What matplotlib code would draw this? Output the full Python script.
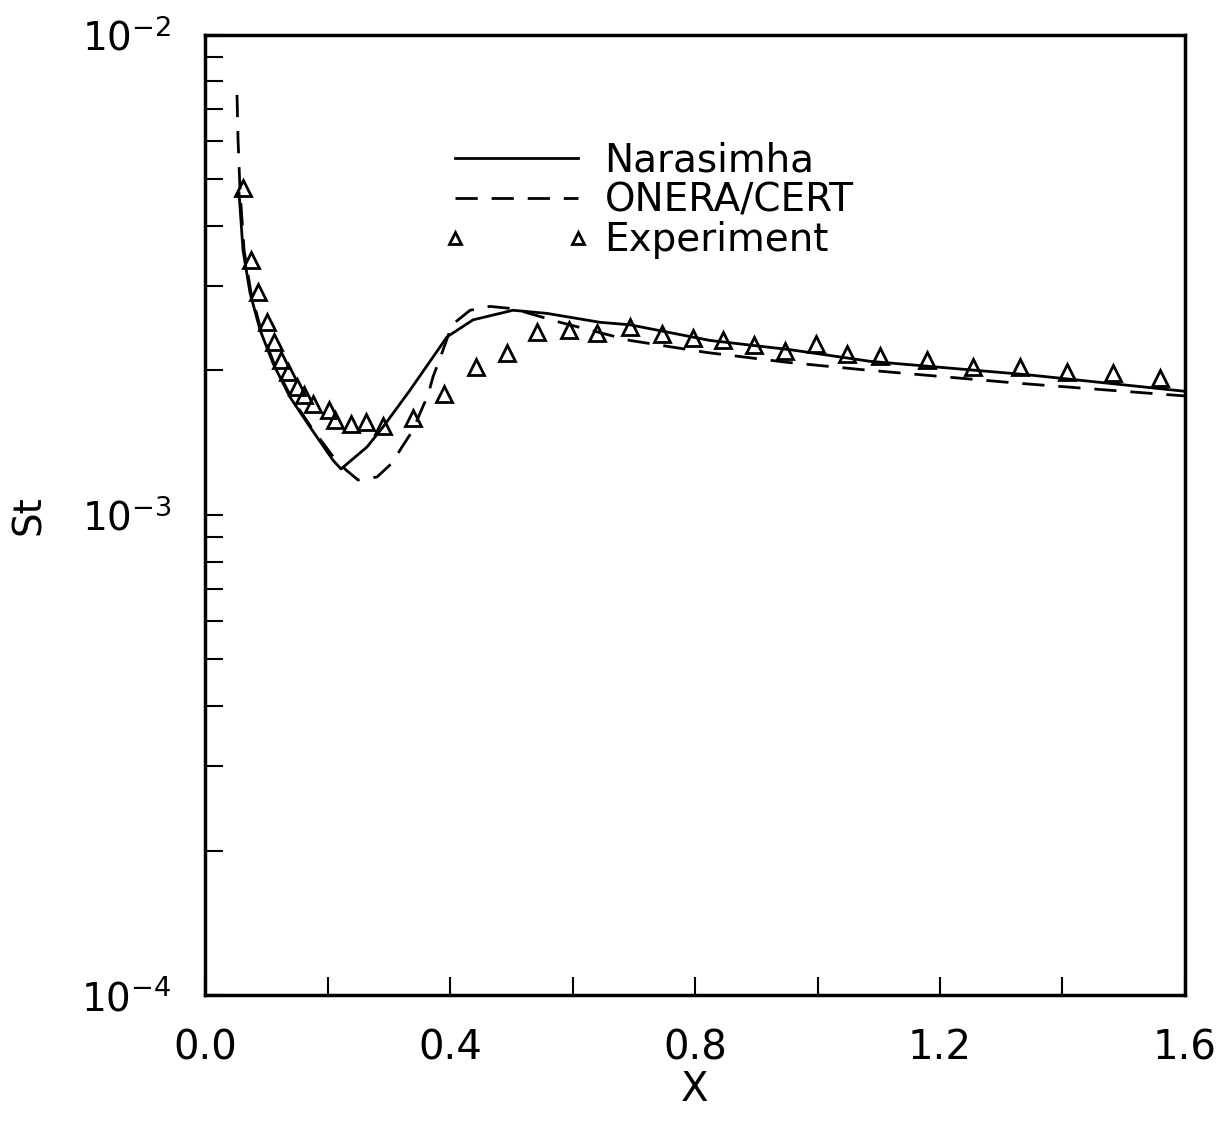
import matplotlib
matplotlib.use('Agg')
import matplotlib.pyplot as plt
import numpy as np
from matplotlib.ticker import FixedLocator, LogLocator, NullFormatter

plt.rcParams['font.family'] = ['Liberation Sans Narrow', 'DejaVu Sans']

# Narasimha (solid)
x_nar = [0.0555, 0.062, 0.0735, 0.0898, 0.111, 0.1388, 0.1714, 0.209, 0.222,
         0.2645, 0.2906, 0.3347, 0.3951, 0.4376, 0.5029, 0.5584, 0.6449,
         0.6939, 0.8245, 0.9551, 1.0857, 1.342, 1.6]
st_nar = [4.69e-3, 3.56e-3, 2.90e-3, 2.43e-3, 2.07e-3, 1.76e-3, 1.525e-3, 1.30e-3, 1.247e-3,
          1.386e-3, 1.525e-3, 1.82e-3, 2.35e-3, 2.55e-3, 2.67e-3, 2.63e-3, 2.52e-3,
          2.49e-3, 2.31e-3, 2.21e-3, 2.09e-3, 1.96e-3, 1.81e-3]

# ONERA/CERT (dashed)
x_onera = [0.0522, 0.0539, 0.0571, 0.0637, 0.0751, 0.0914, 0.1127, 0.1404, 0.1731,
           0.2106, 0.2302, 0.2498, 0.2808, 0.3053, 0.3216, 0.3396, 0.351, 0.3641,
           0.3722, 0.3837, 0.4033, 0.4327, 0.4653, 0.5029, 0.5796, 0.6939, 0.8196,
           0.9502, 1.0694, 1.3306, 1.6]
st_onera = [7.5e-3, 6.04e-3, 4.75e-3, 3.56e-3, 2.90e-3, 2.43e-3, 2.07e-3, 1.76e-3, 1.525e-3,
            1.315e-3, 1.241e-3, 1.183e-3, 1.20e-3, 1.283e-3, 1.386e-3, 1.503e-3, 1.63e-3, 1.778e-3,
            1.94e-3, 2.12e-3, 2.49e-3, 2.67e-3, 2.72e-3, 2.69e-3, 2.52e-3, 2.31e-3, 2.18e-3,
            2.08e-3, 2.01e-3, 1.88e-3, 1.77e-3]

# Experiment
x_exp = [0.0625, 0.0746, 0.087, 0.1007, 0.1127, 0.1236, 0.136, 0.1497, 0.1616, 0.1758,
         0.2029, 0.2122, 0.2379, 0.2629, 0.2901, 0.3401, 0.3902, 0.442, 0.4926, 0.5425,
         0.5938, 0.6395, 0.6939, 0.7461, 0.7967, 0.8457, 0.8963, 0.9469, 0.9976, 1.0482,
         1.102, 1.1788, 1.2539, 1.3306, 1.4073, 1.4824, 1.5592]
st_exp = [4.79e-3, 3.40e-3, 2.92e-3, 2.52e-3, 2.29e-3, 2.10e-3, 1.99e-3, 1.85e-3, 1.78e-3, 1.70e-3,
          1.655e-3, 1.58e-3, 1.55e-3, 1.565e-3, 1.53e-3, 1.59e-3, 1.79e-3, 2.03e-3, 2.18e-3, 2.40e-3,
          2.43e-3, 2.39e-3, 2.46e-3, 2.38e-3, 2.34e-3, 2.31e-3, 2.26e-3, 2.20e-3, 2.27e-3, 2.165e-3,
          2.14e-3, 2.10e-3, 2.03e-3, 2.03e-3, 1.99e-3, 1.98e-3, 1.93e-3]

x_ticks = [0.0, 0.4, 0.8, 1.2, 1.6]
y_ticks = [1e-4, 1e-3, 1e-2]
y_ticklabels = [r'$\mathregular{10^{-4}}$', r'$\mathregular{10^{-3}}$', r'$\mathregular{10^{-2}}$']

fig = plt.figure(figsize=(12.3, 11.21), dpi=100)
ax = fig.add_axes([0.1667, 0.1124, 0.7967, 0.8564])

ax.plot(x_nar, st_nar, 'k-', lw=2, label='Narasimha')
ax.plot(x_onera, st_onera, 'k--', lw=2, dashes=(8, 5), label='ONERA/CERT')
ax.plot(x_exp, st_exp, 'k^', ms=11, mfc='none', mew=2, linestyle='none', label='Experiment')

ax.set_yscale('log')
ax.set_xlim(0, 1.6)
ax.set_ylim(1e-4, 1e-2)

ax.xaxis.set_major_locator(FixedLocator(x_ticks))
ax.xaxis.set_minor_locator(FixedLocator(np.arange(0, 1.61, 0.2)))
ax.set_xticklabels([f'{v:.1f}' for v in x_ticks])
ax.yaxis.set_major_locator(FixedLocator(y_ticks))
ax.set_yticklabels(y_ticklabels)
ax.yaxis.set_minor_locator(LogLocator(base=10, subs=np.arange(2, 10)))
ax.yaxis.set_minor_formatter(NullFormatter())

ax.tick_params(which='both', direction='in', top=False, right=False,
               length=13, width=1.5)
ax.tick_params(axis='x', which='both', labelsize=29, pad=24)
ax.tick_params(axis='y', which='both', labelsize=28, pad=24)

for s in ax.spines.values():
    s.set_linewidth(2.5)

ax.set_xlabel('X', fontsize=29, labelpad=1)
ax.set_ylabel('St', fontsize=28, labelpad=24)

ax.legend(loc='upper left', bbox_to_anchor=(0.243, 0.889), frameon=False,
          fontsize=28, handlelength=3.76, handletextpad=0.39, labelspacing=0.05,
          borderpad=0, borderaxespad=0, numpoints=2, markerscale=0.75)

plt.savefig('out.png', dpi=100)
plt.close()
